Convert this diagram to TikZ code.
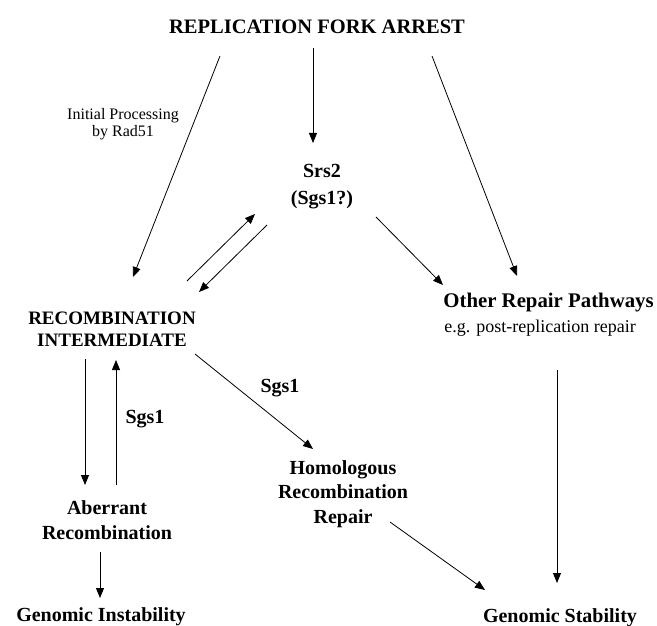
\documentclass[tikz,border=0pt]{standalone}
\usepackage{fontspec}
\setmainfont{Liberation Serif}
\usetikzlibrary{arrows.meta,calc}

\begin{document}
\begin{tikzpicture}[x=1pt,y=-1pt,line width=.8pt,>={Triangle[length=10pt,width=8pt]},
  box/.style={align=center,inner sep=0pt,font=\fontsize{20}{24.5}\selectfont\bfseries},
  note/.style={align=center,inner sep=0pt,font=\fontsize{16}{17}\selectfont}]
\useasboundingbox (0,0) rectangle (657,626);
% nodes
\node[box,font=\fontsize{20.5}{24}\selectfont\bfseries] (fork) at (317,27) {REPLICATION FORK ARREST};
\node[box,font=\fontsize{19}{22}\selectfont\bfseries] (inter) at (112,329) {RECOMBINATION\\INTERMEDIATE};
\node[box,font=\fontsize{20}{27}\selectfont\bfseries] (srs) at (322,187) {Srs2\\(Sgs1?)};
\node[box,anchor=west,font=\fontsize{20.8}{24}\selectfont\bfseries] (other) at (443,303) {Other Repair Pathways};
\node[inner sep=0pt,anchor=west,font=\fontsize{18}{20}\selectfont] (eg) at (444,328) {e.g. post-replication repair};
\node[box] (aber) at (107,520) {Aberrant\\Recombination};
\node[box] (hrr) at (343,494) {Homologous\\Recombination\\Repair};
\node[box] (instab) at (101,617) {Genomic Instability};
\node[box] (stab) at (560,618) {Genomic Stability};
\node[note] (rad) at (123,124) {Initial Processing\\by Rad51};
\node[box] (sgsA) at (145,419) {Sgs1};
\node[box] (sgsB) at (280,388) {Sgs1};
% arrows
\draw[->] ($(fork)+(-97,29)$) -- ($(inter)+(21,-52)$);
\draw[->] ($(fork)+(-4,21)$) -- ($(srs)+(-9,-44)$);
\draw[->] ($(fork)+(115,29)$) -- ($(other.west)+(74,-27)$);
\draw[->] ($(inter)+(75,-48)$) -- ($(srs)+(-67,27)$);
\draw[->] ($(srs)+(-55,38)$) -- ($(inter)+(87,-37)$);
\draw[->] ($(srs)+(54,30)$) -- ($(other.west)+(0,-18)$);
\draw[->] ($(inter)+(-27,30)$) -- ($(aber)+(-22,-35)$);
\draw[->] ($(aber)+(9,-35)$) -- ($(inter)+(4,31)$);
\draw[->] ($(inter)+(83,25)$) -- ($(hrr)+(-30,-45)$);
\draw[->] ($(aber)+(-7,32)$) -- ($(instab)+(-1,-19)$);
\draw[->] ($(hrr)+(47,28)$) -- ($(stab)+(-75,-28)$);
\draw[->] ($(other.west)+(114,67)$) -- ($(stab)+(-3,-35)$);
\end{tikzpicture}
\end{document}
